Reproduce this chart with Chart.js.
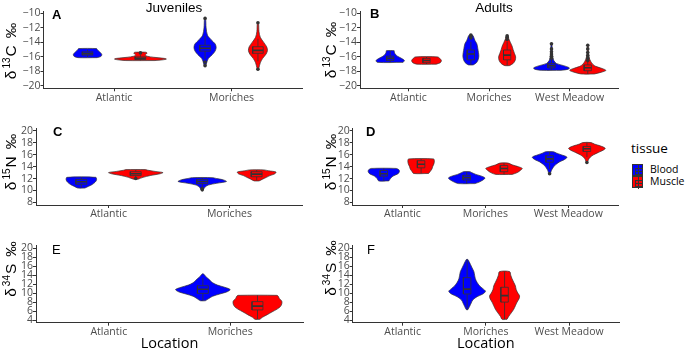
<!DOCTYPE html>
<html><head><meta charset="utf-8">
<script src="https://cdn.jsdelivr.net/npm/chart.js@4.4.0/dist/chart.umd.min.js"></script>
<style>
html,body{margin:0;padding:0;background:#fff;}
body{width:685px;height:353px;overflow:hidden;position:relative;font-family:"Open Sans",sans-serif;}
canvas{position:absolute;}
.t{position:absolute;white-space:nowrap;line-height:1;color:#000;}
.ytitle{position:absolute;white-space:nowrap;font-family:"Liberation Sans",Arial,sans-serif;font-size:15.5px;line-height:16px;color:#000;transform:translate(-50%,-50%) rotate(-90deg);}
.ytitle sup{font-size:10px;vertical-align:0;position:relative;top:-6px;margin:0 1px 0 2px;}
.ytitle .pm{margin-left:7px;}
.key{position:absolute;width:11px;height:12px;border:0.6px solid #333;box-sizing:border-box;}
.key i{position:absolute;display:block;background:#333;}
</style></head><body>
<canvas id="cA" width="306" height="106"></canvas>
<canvas id="cB" width="301" height="106"></canvas>
<canvas id="cC" width="306" height="106"></canvas>
<canvas id="cD" width="301" height="106"></canvas>
<canvas id="cE" width="306" height="119"></canvas>
<canvas id="cF" width="301" height="119"></canvas>

<div class="t" style="left:174px;top:1px;transform:translateX(-50%);font-family:'Liberation Sans',Arial,sans-serif;font-size:13.5px;">Juveniles</div>
<div class="t" style="left:494px;top:1px;transform:translateX(-50%);font-family:'Liberation Sans',Arial,sans-serif;font-size:13.5px;">Adults</div>

<div class="t" style="left:52px;top:8px;font-family:'Liberation Sans',Arial,sans-serif;font-weight:bold;font-size:13px;">A</div>
<div class="t" style="left:370px;top:7px;font-family:'Liberation Sans',Arial,sans-serif;font-weight:bold;font-size:13px;">B</div>
<div class="t" style="left:53px;top:125px;font-family:'Liberation Sans',Arial,sans-serif;font-weight:bold;font-size:13px;">C</div>
<div class="t" style="left:366px;top:125px;font-family:'Liberation Sans',Arial,sans-serif;font-weight:bold;font-size:13px;">D</div>
<div class="t" style="left:52px;top:243px;font-family:'Liberation Sans',Arial,sans-serif;font-size:13px;">E</div>
<div class="t" style="left:367px;top:243px;font-family:'Liberation Sans',Arial,sans-serif;font-size:13px;">F</div>

<div class="ytitle" style="left:12px;top:51px;">δ<sup>13</sup>C<span class="pm">‰</span></div>
<div class="ytitle" style="left:332px;top:50px;">δ<sup>13</sup>C<span class="pm">‰</span></div>
<div class="ytitle" style="left:12px;top:162px;">δ<sup>15</sup>N<span class="pm">‰</span></div>
<div class="ytitle" style="left:332px;top:162px;">δ<sup>15</sup>N<span class="pm">‰</span></div>
<div class="ytitle" style="left:12px;top:269px;">δ<sup>34</sup>S<span class="pm">‰</span></div>
<div class="ytitle" style="left:332px;top:268px;">δ<sup>34</sup>S<span class="pm">‰</span></div>

<div id="legend"></div>

<script>
// ---------------- data ----------------
const juvenileSites = ['Atlantic', 'Moriches'];
const adultSites = ['Atlantic', 'Moriches', 'West Meadow'];
const tissues = ['Blood', 'Muscle'];

const carbonTicks = [-20, -18, -16, -14, -12, -10];
const nitrogenTicks = [8, 10, 12, 14, 16, 18, 20];
const sulfurTicks = [4, 6, 8, 10, 12, 14, 16, 18, 20];
const carbonRange = [-20.32, -9.68];
const nitrogenRange = [7.55, 20.45];
const sulfurRange = [3.4, 20.6];

// profile: [value, relative density (1 = widest)], box: [lower whisker, Q1, median, Q3, upper whisker]
const juvenileCarbon = [
  { site: 'Atlantic', tissue: 'Blood',
    profile: [[-16.1,0.36],[-15.95,0.5],[-15.7,0.54],[-15.45,0.5],[-15.2,0.42],[-14.95,0.36],[-14.85,0.34]],
    box: [-16.0,-15.75,-15.55,-15.3,-15.0], outliers: [] },
  { site: 'Atlantic', tissue: 'Muscle',
    profile: [[-16.5,0.55],[-16.4,0.85],[-16.3,0.98],[-16.2,0.9],[-16.05,0.5],[-15.9,0.25],[-15.75,0.18],[-15.6,0.22],[-15.45,0.25],[-15.35,0.2]],
    box: [-16.5,-16.35,-16.2,-16.0,-15.75], outliers: [-15.45] },
  { site: 'Moriches', tissue: 'Blood',
    profile: [[-17.3,0.02],[-16.7,0.07],[-16.2,0.13],[-15.7,0.27],[-15.2,0.38],[-14.7,0.42],[-14.2,0.38],[-13.6,0.22],[-13.0,0.09],[-12.0,0.04],[-10.7,0.02]],
    box: [-16.3,-15.2,-14.8,-14.4,-13.1], outliers: [-10.7,-16.7,-17.2] },
  { site: 'Moriches', tissue: 'Muscle',
    profile: [[-17.8,0.02],[-17.5,0.04],[-16.8,0.09],[-16.2,0.18],[-15.6,0.31],[-15.1,0.36],[-14.6,0.33],[-14.0,0.22],[-13.3,0.09],[-12.5,0.04],[-11.3,0.02]],
    box: [-16.6,-15.5,-15.1,-14.6,-13.5], outliers: [-11.3,-17.7] }
];

const adultCarbon = [
  { site: 'Atlantic', tissue: 'Blood',
    profile: [[-16.75,0.71],[-16.5,0.78],[-16.2,0.62],[-15.9,0.4],[-15.6,0.27],[-15.3,0.22],[-15.15,0.22]],
    box: [-16.75,-16.5,-16.2,-15.9,-15.2], outliers: [] },
  { site: 'Atlantic', tissue: 'Muscle',
    profile: [[-17.0,0.53],[-16.8,0.76],[-16.5,0.82],[-16.2,0.73],[-16.0,0.62]],
    box: [-17.0,-16.8,-16.5,-16.2,-16.0], outliers: [] },
  { site: 'Moriches', tissue: 'Blood',
    profile: [[-17.1,0.13],[-16.8,0.31],[-16.4,0.4],[-15.9,0.44],[-15.4,0.42],[-14.8,0.38],[-14.2,0.33],[-13.7,0.22],[-13.3,0.16],[-13.0,0.09]],
    box: [-17.1,-16.4,-15.6,-15.05,-13.9], outliers: [-13.0,-13.2,-13.4] },
  { site: 'Moriches', tissue: 'Muscle',
    profile: [[-17.2,0.13],[-16.9,0.33],[-16.5,0.44],[-16.0,0.47],[-15.5,0.4],[-15.0,0.33],[-14.5,0.27],[-14.0,0.18],[-13.5,0.09],[-13.1,0.04]],
    box: [-17.2,-16.4,-15.75,-15.05,-13.9], outliers: [-13.1,-13.3,-13.6] },
  { site: 'West Meadow', tissue: 'Blood',
    profile: [[-17.85,0.53],[-17.7,0.93],[-17.5,0.98],[-17.2,0.67],[-16.9,0.27],[-16.5,0.13],[-16.0,0.07],[-15.0,0.04],[-14.1,0.02]],
    box: [-17.85,-17.5,-17.2,-16.9,-16.4], outliers: [-14.2,-14.9,-15.3,-15.6,-15.9,-16.2] },
  { site: 'West Meadow', tissue: 'Muscle',
    profile: [[-18.35,0.36],[-18.1,0.76],[-17.85,1.0],[-17.6,0.8],[-17.3,0.44],[-17.0,0.27],[-16.6,0.16],[-16.2,0.09],[-15.5,0.04],[-14.3,0.02]],
    box: [-18.35,-17.9,-17.5,-17.1,-16.6], outliers: [-14.4,-14.9,-15.4,-15.8,-16.2,-16.5] }
];

const juvenileNitrogen = [
  { site: 'Atlantic', tissue: 'Blood',
    profile: [[10.4,0.13],[10.7,0.27],[11.0,0.4],[11.4,0.51],[11.8,0.56],[12.2,0.53]],
    box: [10.5,11.05,11.45,11.85,12.2], outliers: [] },
  { site: 'Atlantic', tissue: 'Muscle',
    profile: [[11.9,0.09],[12.2,0.27],[12.5,0.53],[12.8,0.89],[13.0,1.0],[13.2,0.71],[13.4,0.44],[13.5,0.36]],
    box: [12.2,12.5,12.8,13.15,13.5], outliers: [12.0] },
  { site: 'Moriches', tissue: 'Blood',
    profile: [[10.1,0.04],[10.5,0.09],[10.9,0.22],[11.2,0.53],[11.5,0.89],[11.8,0.76],[12.0,0.53],[12.15,0.36]],
    box: [10.6,11.15,11.5,11.85,12.15], outliers: [10.1,10.3] },
  { site: 'Moriches', tissue: 'Muscle',
    profile: [[11.6,0.09],[11.9,0.22],[12.2,0.36],[12.5,0.49],[12.8,0.67],[13.1,0.71],[13.3,0.44],[13.45,0.27]],
    box: [11.7,12.3,12.75,13.15,13.45], outliers: [] }
];

const adultNitrogen = [
  { site: 'Atlantic', tissue: 'Blood',
    profile: [[11.6,0.27],[12.0,0.36],[12.4,0.49],[12.8,0.76],[13.2,0.84],[13.5,0.8],[13.7,0.67]],
    box: [11.6,12.4,12.8,13.35,13.7], outliers: [] },
  { site: 'Atlantic', tissue: 'Muscle',
    profile: [[12.85,0.4],[13.2,0.49],[13.6,0.58],[14.0,0.62],[14.5,0.69],[15.0,0.71],[15.3,0.67]],
    box: [12.9,13.8,14.4,15.0,15.3], outliers: [] },
  { site: 'Moriches', tissue: 'Blood',
    profile: [[11.15,0.44],[11.4,0.67],[11.8,0.89],[12.1,0.98],[12.4,0.8],[12.7,0.49],[13.0,0.27],[13.15,0.18]],
    box: [11.15,11.75,12.15,12.55,13.15], outliers: [] },
  { site: 'Moriches', tissue: 'Muscle',
    profile: [[12.7,0.44],[13.0,0.71],[13.4,0.89],[13.7,0.98],[14.0,0.76],[14.3,0.44],[14.6,0.22]],
    box: [12.7,13.15,13.7,14.2,14.6], outliers: [] },
  { site: 'West Meadow', tissue: 'Blood',
    profile: [[12.8,0.04],[13.3,0.09],[13.8,0.18],[14.3,0.31],[14.8,0.53],[15.2,0.8],[15.6,0.93],[16.0,0.62],[16.3,0.36],[16.5,0.22]],
    box: [13.6,14.75,15.3,15.85,16.5], outliers: [12.8] },
  { site: 'West Meadow', tissue: 'Muscle',
    profile: [[14.8,0.04],[15.2,0.09],[15.6,0.18],[16.0,0.36],[16.4,0.62],[16.8,0.89],[17.1,0.98],[17.5,0.71],[17.8,0.4],[18.05,0.22]],
    box: [15.6,16.55,17.0,17.4,18.05], outliers: [14.7] }
];

const juvenileSulfur = [
  { site: 'Moriches', tissue: 'Blood',
    profile: [[8.3,0.09],[8.8,0.22],[9.3,0.36],[9.8,0.62],[10.3,0.89],[10.8,1.0],[11.3,0.8],[11.8,0.53],[12.3,0.36],[12.8,0.27],[13.3,0.18],[13.8,0.09],[14.3,0.02]],
    box: [8.3,9.95,10.85,11.65,13.4], outliers: [] },
  { site: 'Moriches', tissue: 'Muscle',
    profile: [[4.15,0.09],[4.6,0.18],[5.2,0.36],[5.8,0.53],[6.4,0.71],[7.0,0.84],[7.6,0.89],[8.2,0.89],[8.8,0.8],[9.3,0.76],[9.5,0.71]],
    box: [4.2,6.25,7.1,8.1,9.5], outliers: [] }
];

const adultSulfur = [
  { site: 'Moriches', tissue: 'Blood',
    profile: [[6.3,0.04],[7.0,0.13],[7.8,0.22],[8.5,0.31],[9.2,0.53],[9.8,0.84],[10.4,0.98],[11.0,0.84],[11.6,0.67],[12.4,0.53],[13.2,0.44],[14.0,0.4],[14.8,0.36],[15.6,0.27],[16.4,0.18],[17.0,0.11],[17.5,0.04]],
    box: [6.3,9.8,10.9,13.45,17.5], outliers: [] },
  { site: 'Moriches', tissue: 'Muscle',
    profile: [[4.15,0.13],[4.8,0.22],[5.6,0.36],[6.4,0.49],[7.2,0.58],[8.0,0.67],[8.8,0.78],[9.4,0.8],[10.0,0.71],[10.8,0.62],[11.6,0.58],[12.4,0.49],[13.2,0.4],[14.0,0.33],[14.8,0.27]],
    box: [4.15,8.0,9.45,11.3,14.8], outliers: [] }
];

// ---------------- styling / layout ----------------
const COLORS = { Blood: '#0000FF', Muscle: '#FF0000' };
const OUTLINE = '#333333';
const HALF_WIDTH = 0.225;
const DODGE = 0.225;
const BOX_HALF = 0.045;
const TICK_FONT = { family: 'Open Sans', size: 10.5 };

function buildDatasets(violins, sites) {
  const ds = [];
  violins.forEach(v => {
    const c = sites.indexOf(v.site) + 1 + (v.tissue === 'Blood' ? -DODGE : DODGE);
    const col = COLORS[v.tissue];
    const right = v.profile.map(([y, d]) => ({ x: c + d * HALF_WIDTH, y }));
    const left = v.profile.slice().reverse().map(([y, d]) => ({ x: c - d * HALF_WIDTH, y }));
    const poly = right.concat(left, [right[0]]);
    ds.push({ data: poly, fill: 'shape', backgroundColor: col, borderColor: OUTLINE, borderWidth: 0.7,
      pointRadius: 0, tension: 0.3, order: 5 });
    const [lo, q1, med, q3, hi] = v.box;
    ds.push({ data: [{ x: c, y: lo }, { x: c, y: q1 }, { x: c, y: null }, { x: c, y: q3 }, { x: c, y: hi }],
      borderColor: OUTLINE, borderWidth: 0.8, pointRadius: 0, fill: false, order: 4 });
    ds.push({ data: [{ x: c - BOX_HALF, y: q1 }, { x: c + BOX_HALF, y: q1 }, { x: c + BOX_HALF, y: q3 }, { x: c - BOX_HALF, y: q3 }, { x: c - BOX_HALF, y: q1 }],
      fill: 'shape', backgroundColor: col, borderColor: OUTLINE, borderWidth: 0.8, pointRadius: 0, tension: 0, order: 3 });
    ds.push({ data: [{ x: c - BOX_HALF, y: med }, { x: c + BOX_HALF, y: med }],
      borderColor: OUTLINE, borderWidth: 1.6, pointRadius: 0, fill: false, order: 2 });
    if (v.outliers.length) {
      ds.push({ data: v.outliers.map(y => ({ x: c, y })), showLine: false, pointRadius: 1.8,
        pointBackgroundColor: OUTLINE, pointBorderColor: OUTLINE, pointBorderWidth: 0, order: 1 });
    }
  });
  return ds;
}

function fmt(v) { return v < 0 ? '\u2212' + Math.abs(v) : String(v); }

const panels = [
  { id: 'cA', canvas: [0, 0, 306, 106], area: [43.5, 11, 303, 88.3], sites: juvenileSites, ticks: carbonTicks, range: carbonRange, violins: juvenileCarbon, xTitle: false },
  { id: 'cB', canvas: [321, 0, 301, 106], area: [360, 11, 619, 88.3], sites: adultSites, ticks: carbonTicks, range: carbonRange, violins: adultCarbon, xTitle: false },
  { id: 'cC', canvas: [0, 117, 306, 106], area: [36, 128.3, 303, 205], sites: juvenileSites, ticks: nitrogenTicks, range: nitrogenRange, violins: juvenileNitrogen, xTitle: false },
  { id: 'cD', canvas: [321, 117, 301, 106], area: [352.7, 128.3, 619, 205], sites: adultSites, ticks: nitrogenTicks, range: nitrogenRange, violins: adultNitrogen, xTitle: false },
  { id: 'cE', canvas: [0, 234, 306, 119], area: [36, 245.6, 303, 322.7], sites: juvenileSites, ticks: sulfurTicks, range: sulfurRange, violins: juvenileSulfur, xTitle: true },
  { id: 'cF', canvas: [321, 234, 301, 119], area: [352.7, 245.6, 619, 322.7], sites: adultSites, ticks: sulfurTicks, range: sulfurRange, violins: adultSulfur, xTitle: true }
];

panels.forEach(p => {
  const [cl, ct, cw, ch] = p.canvas;
  const [al, at, ar, ab] = p.area;
  const el = document.getElementById(p.id);
  el.style.left = cl + 'px';
  el.style.top = ct + 'px';
  const yW = al - cl, xH = (ct + ch) - ab;
  new Chart(el, {
    type: 'line',
    data: { datasets: buildDatasets(p.violins, p.sites) },
    options: {
      responsive: false, animation: false, events: [],
      layout: { padding: { left: 0, top: at - ct, right: (cl + cw) - ar, bottom: 0 } },
      plugins: { legend: { display: false }, tooltip: { enabled: false } },
      scales: {
        x: {
          type: 'linear', min: 0.4, max: p.sites.length + 0.6,
          afterBuildTicks: s => { s.ticks = p.sites.map((_, i) => ({ value: i + 1 })); },
          afterFit: s => { s.height = xH; },
          ticks: { callback: v => p.sites[v - 1] || '', font: TICK_FONT, color: '#4D4D4D', padding: 0, autoSkip: false, maxRotation: 0 },
          grid: { display: true, drawOnChartArea: false, drawTicks: true, tickLength: 3, color: OUTLINE, lineWidth: 1 },
          border: { display: true, color: OUTLINE, width: 1 },
          title: { display: p.xTitle, text: 'Location', color: '#000', font: { family: 'Open Sans', size: 14.5 }, padding: { top: 0, bottom: 0 } }
        },
        y: {
          type: 'linear', min: p.range[0], max: p.range[1],
          afterBuildTicks: s => { s.ticks = p.ticks.map(v => ({ value: v })); },
          afterFit: s => { s.width = yW; },
          ticks: { callback: v => fmt(v), font: TICK_FONT, color: '#4D4D4D', padding: 0, autoSkip: false },
          grid: { display: true, drawOnChartArea: false, drawTicks: true, tickLength: 3, color: OUTLINE, lineWidth: 1 },
          border: { display: true, color: OUTLINE, width: 1 }
        }
      }
    }
  });
});

// legend
const lg = document.getElementById('legend');
let html = '<div class="t" style="left:631px;top:142px;font-size:13.5px;">tissue</div>';
tissues.forEach((t, i) => {
  const top = 164 + i * 12;
  html += '<div class="key" style="left:632px;top:' + top + 'px;background:' + COLORS[t] + ';">' +
    '<i style="left:5px;top:0;width:0.8px;height:12px;"></i>' +
    '<i style="left:1.5px;top:2.5px;width:7px;height:0.8px;"></i>' +
    '<i style="left:1.5px;top:5.5px;width:7px;height:1.2px;"></i>' +
    '<i style="left:1.5px;top:8.5px;width:7px;height:0.8px;"></i>' +
    '<i style="left:1.5px;top:2.5px;width:0.8px;height:7px;"></i>' +
    '<i style="left:8.5px;top:2.5px;width:0.8px;height:7px;"></i></div>';
  html += '<div class="t" style="left:650px;top:' + (top) + 'px;font-size:10.5px;">' + t + '</div>';
});
lg.innerHTML = html;
</script>
</body></html>
